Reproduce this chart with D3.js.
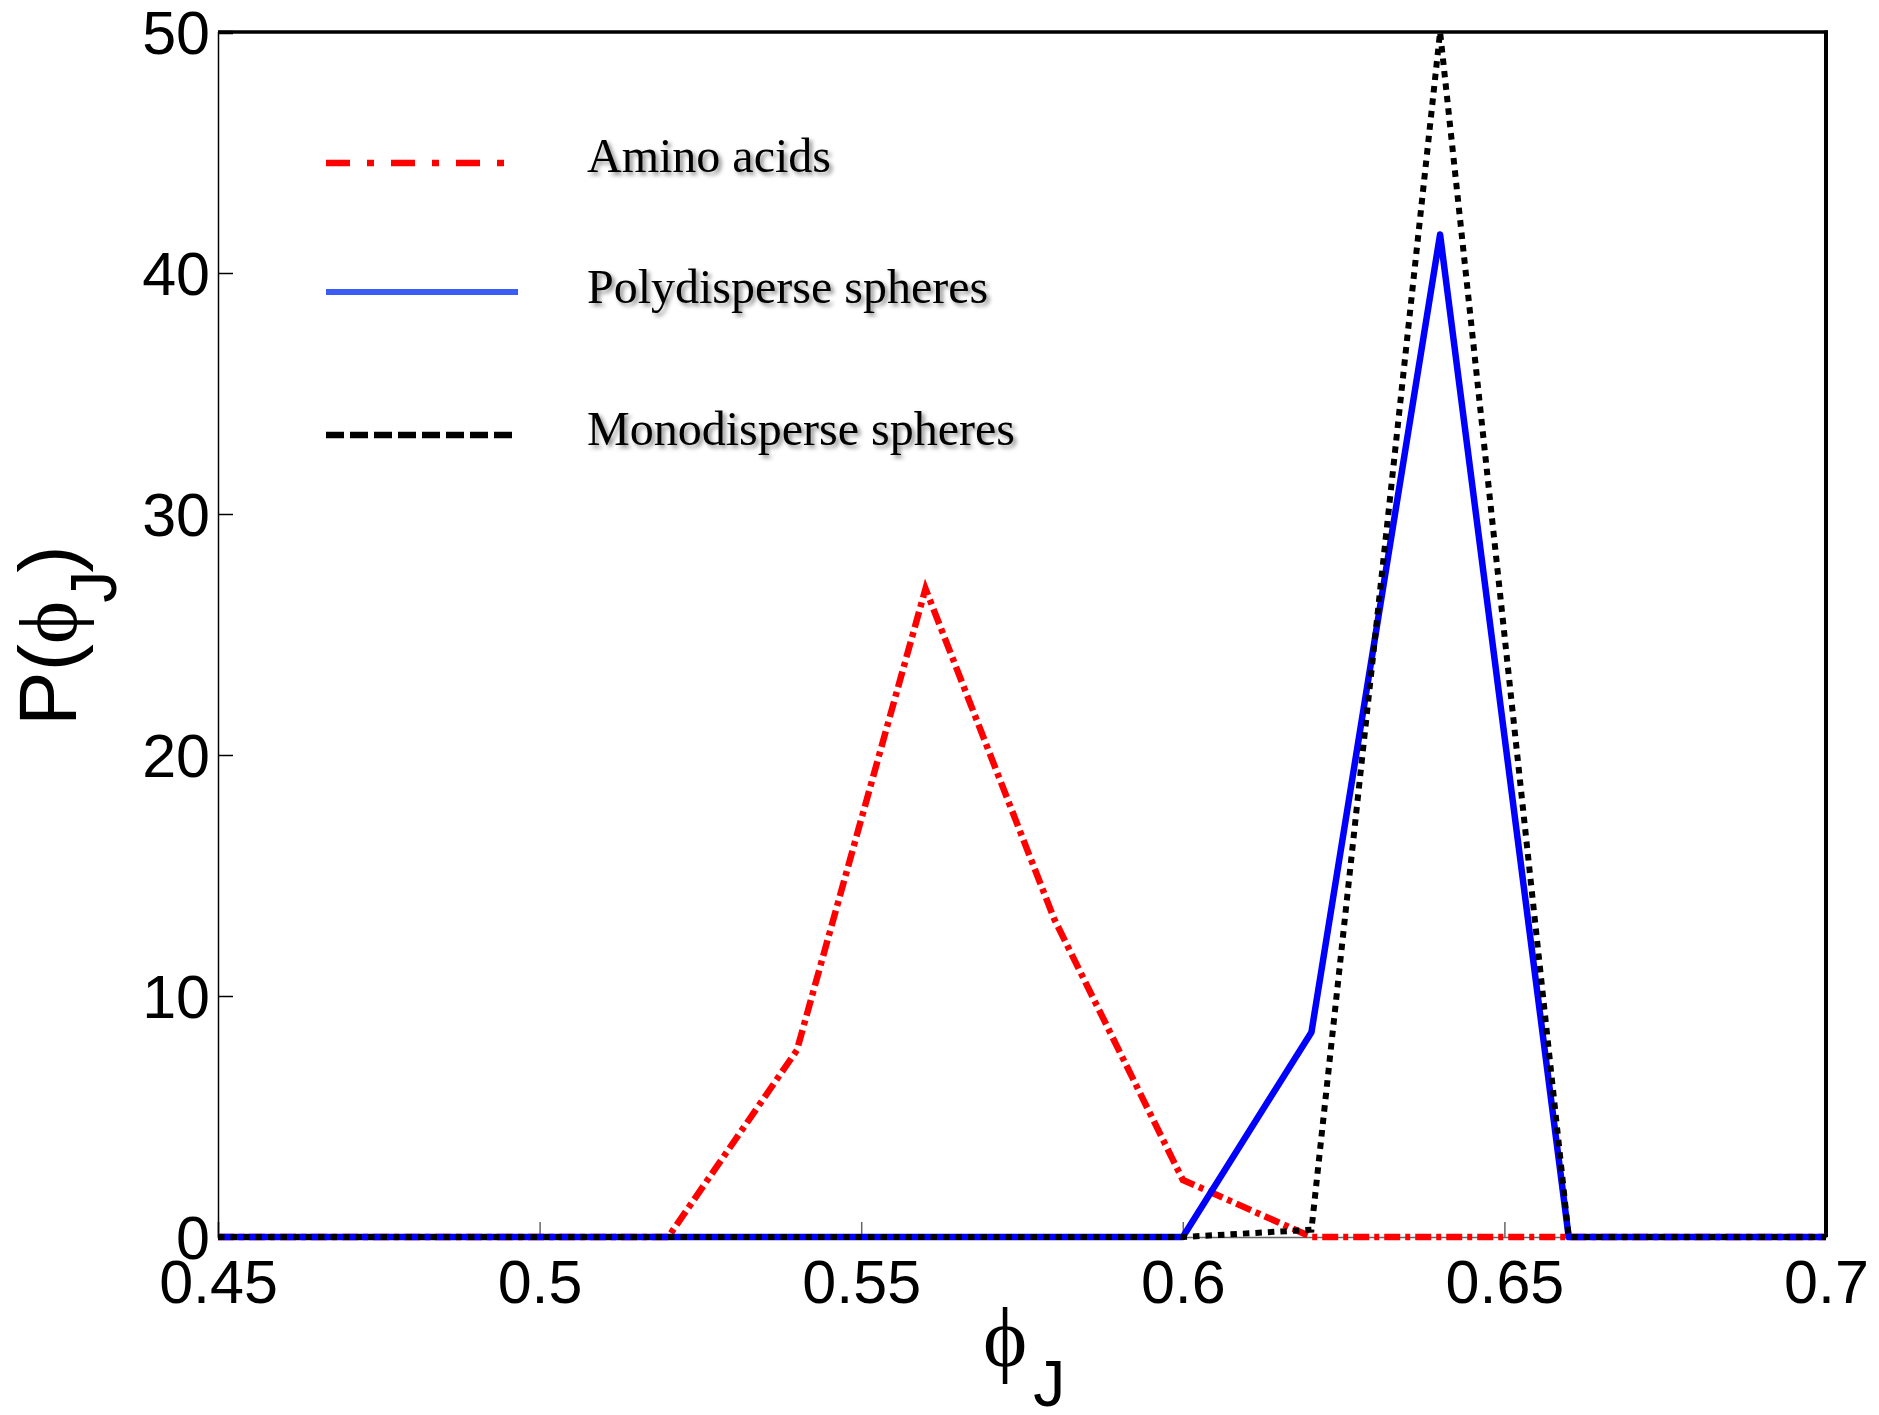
<!DOCTYPE html>
<html>
<head>
<meta charset="utf-8">
<script src="https://cdn.jsdelivr.net/npm/d3@7"></script>
<style>
  html, body { margin: 0; padding: 0; background: #fff; }
  svg { display: block; }
</style>
</head>
<body>
<script>
// ---- data ----
const phi = [0.45, 0.46, 0.48, 0.50, 0.52, 0.54, 0.56, 0.58, 0.60, 0.62, 0.64, 0.66, 0.68, 0.70];
const aminoAcids   = [0, 0, 0, 0, 0, 7.75, 26.9, 13.2, 2.37, 0, 0, 0, 0, 0];
const polySpheres  = [0, 0, 0, 0, 0, 0, 0, 0, 0, 8.5, 41.6, 0, 0, 0];
const monoSpheres  = [0, 0, 0, 0, 0, 0, 0, 0, 0, 0.3, 50, 0, 0, 0];
const xTicks = [0.45, 0.5, 0.55, 0.6, 0.65, 0.7];
const xTickLabels = ["0.45", "0.5", "0.55", "0.6", "0.65", "0.7"];
const yTicks = [0, 10, 20, 30, 40, 50];
const yTickLabels = ["0", "10", "20", "30", "40", "50"];
const legendLabels = ["Amino acids", "Polydisperse spheres", "Monodisperse spheres"];

const W = 1879, H = 1415;
const pLeft = 218, pRight = 1826, pTop = 32, pBottom = 1237;

const svg = d3.select("body").append("svg").attr("width", W).attr("height", H);

const defs = svg.append("defs");
const f = defs.append("filter").attr("id", "shadow").attr("x", "-10%").attr("y", "-30%").attr("width", "130%").attr("height", "170%");
f.append("feDropShadow").attr("dx", 3).attr("dy", 3).attr("stdDeviation", 2).attr("flood-color", "#000").attr("flood-opacity", 0.45);

const x = d3.scaleLinear().domain([0.45, 0.7]).range([pLeft, pRight]);
const y = d3.scaleLinear().domain([0, 50]).range([pBottom, pTop]);

const sans = "Arial, 'Liberation Sans', Helvetica, sans-serif";
const serif = "'Times New Roman', 'Liberation Serif', Times, serif";

// bottom axis (thin grey line + inward ticks)
const xAxis = d3.axisBottom(x).tickValues(xTicks).tickSize(-15).tickFormat((d, i) => xTickLabels[i]).tickPadding(22);
const gx = svg.append("g").attr("transform", `translate(0,${pBottom})`).call(xAxis);
gx.select(".domain").attr("stroke", "#666").attr("stroke-width", 1.5);
gx.selectAll(".tick line").attr("stroke", "#666").attr("stroke-width", 1.5);
gx.selectAll(".tick text").attr("font-family", sans).attr("font-size", 61).attr("fill", "#000")
  .attr("dy", null).attr("y", 66);

// left axis
const yAxis = d3.axisLeft(y).tickValues(yTicks).tickSize(-15).tickFormat((d, i) => yTickLabels[i]).tickPadding(22);
const gy = svg.append("g").attr("transform", `translate(${pLeft},0)`).call(yAxis);
gy.select(".domain").attr("stroke", "#000").attr("stroke-width", 1.5);
gy.selectAll(".tick line").attr("stroke", "#000").attr("stroke-width", 1.5);
gy.selectAll(".tick line").filter(d => d === 50).attr("stroke-width", 3.5);
gy.selectAll(".tick text").attr("font-family", sans).attr("font-size", 61).attr("fill", "#000")
  .attr("x", -8).attr("dy", "0.35em");

// top and right border
svg.append("line").attr("x1", pLeft).attr("x2", pRight + 2).attr("y1", pTop).attr("y2", pTop)
  .attr("stroke", "#000").attr("stroke-width", 3.5);
svg.append("line").attr("x1", pRight).attr("x2", pRight).attr("y1", pTop - 1.5).attr("y2", pBottom)
  .attr("stroke", "#000").attr("stroke-width", 4);

// series
const line = d3.line().x((d, i) => x(phi[i])).y(d => y(d));
svg.append("path").datum(aminoAcids).attr("d", line).attr("fill", "none")
  .attr("stroke", "#ff0000").attr("stroke-width", 6.5).attr("stroke-dasharray", "16,5,5,5");
svg.append("path").datum(polySpheres).attr("d", line).attr("fill", "none")
  .attr("stroke", "#0000ff").attr("stroke-width", 6.5).attr("stroke-linejoin", "round");
svg.append("path").datum(monoSpheres).attr("d", line).attr("fill", "none")
  .attr("stroke", "#000").attr("stroke-width", 6).attr("stroke-dasharray", "6.5,6");

// legend
const legendItems = [
  { label: legendLabels[0], color: "#ff0000", dash: "24,17,7,17", x2: 506, ly: 163, ty: 172, w: 6.5 },
  { label: legendLabels[1], color: "#3b5cf5", dash: null, x2: 518, ly: 292, ty: 303, w: 6 },
  { label: legendLabels[2], color: "#000", dash: "18,6", x2: 512, ly: 435, ty: 445, w: 6.5 }
];
const lg = svg.append("g");
legendItems.forEach(it => {
  const l = lg.append("line").attr("x1", 326).attr("x2", it.x2).attr("y1", it.ly).attr("y2", it.ly)
    .attr("stroke", it.color).attr("stroke-width", it.w);
  if (it.dash) l.attr("stroke-dasharray", it.dash);
  lg.append("text").attr("x", 587).attr("y", it.ty).attr("font-family", serif).attr("font-size", 48)
    .attr("fill", "#000").attr("filter", "url(#shadow)").text(it.label);
});

// x axis title
const xt = svg.append("text").attr("x", 983).attr("y", 1366).attr("fill", "#000");
xt.append("tspan").attr("font-family", serif).attr("font-size", 84).text("ϕ");
xt.append("tspan").attr("font-family", sans).attr("font-size", 64).attr("dx", 6).attr("dy", 40).text("J");

// y axis title
const yt = svg.append("text").attr("transform", "translate(76,726) rotate(-90)").attr("fill", "#000");
yt.append("tspan").attr("font-family", sans).attr("font-size", 82).text("P(");
yt.append("tspan").attr("font-family", serif).attr("font-size", 82).text("ϕ");
yt.append("tspan").attr("font-family", sans).attr("font-size", 64).attr("dx", -2).attr("dy", 40).text("J");
yt.append("tspan").attr("font-family", sans).attr("font-size", 82).attr("dx", -2).attr("dy", -40).text(")");
</script>
</body>
</html>
